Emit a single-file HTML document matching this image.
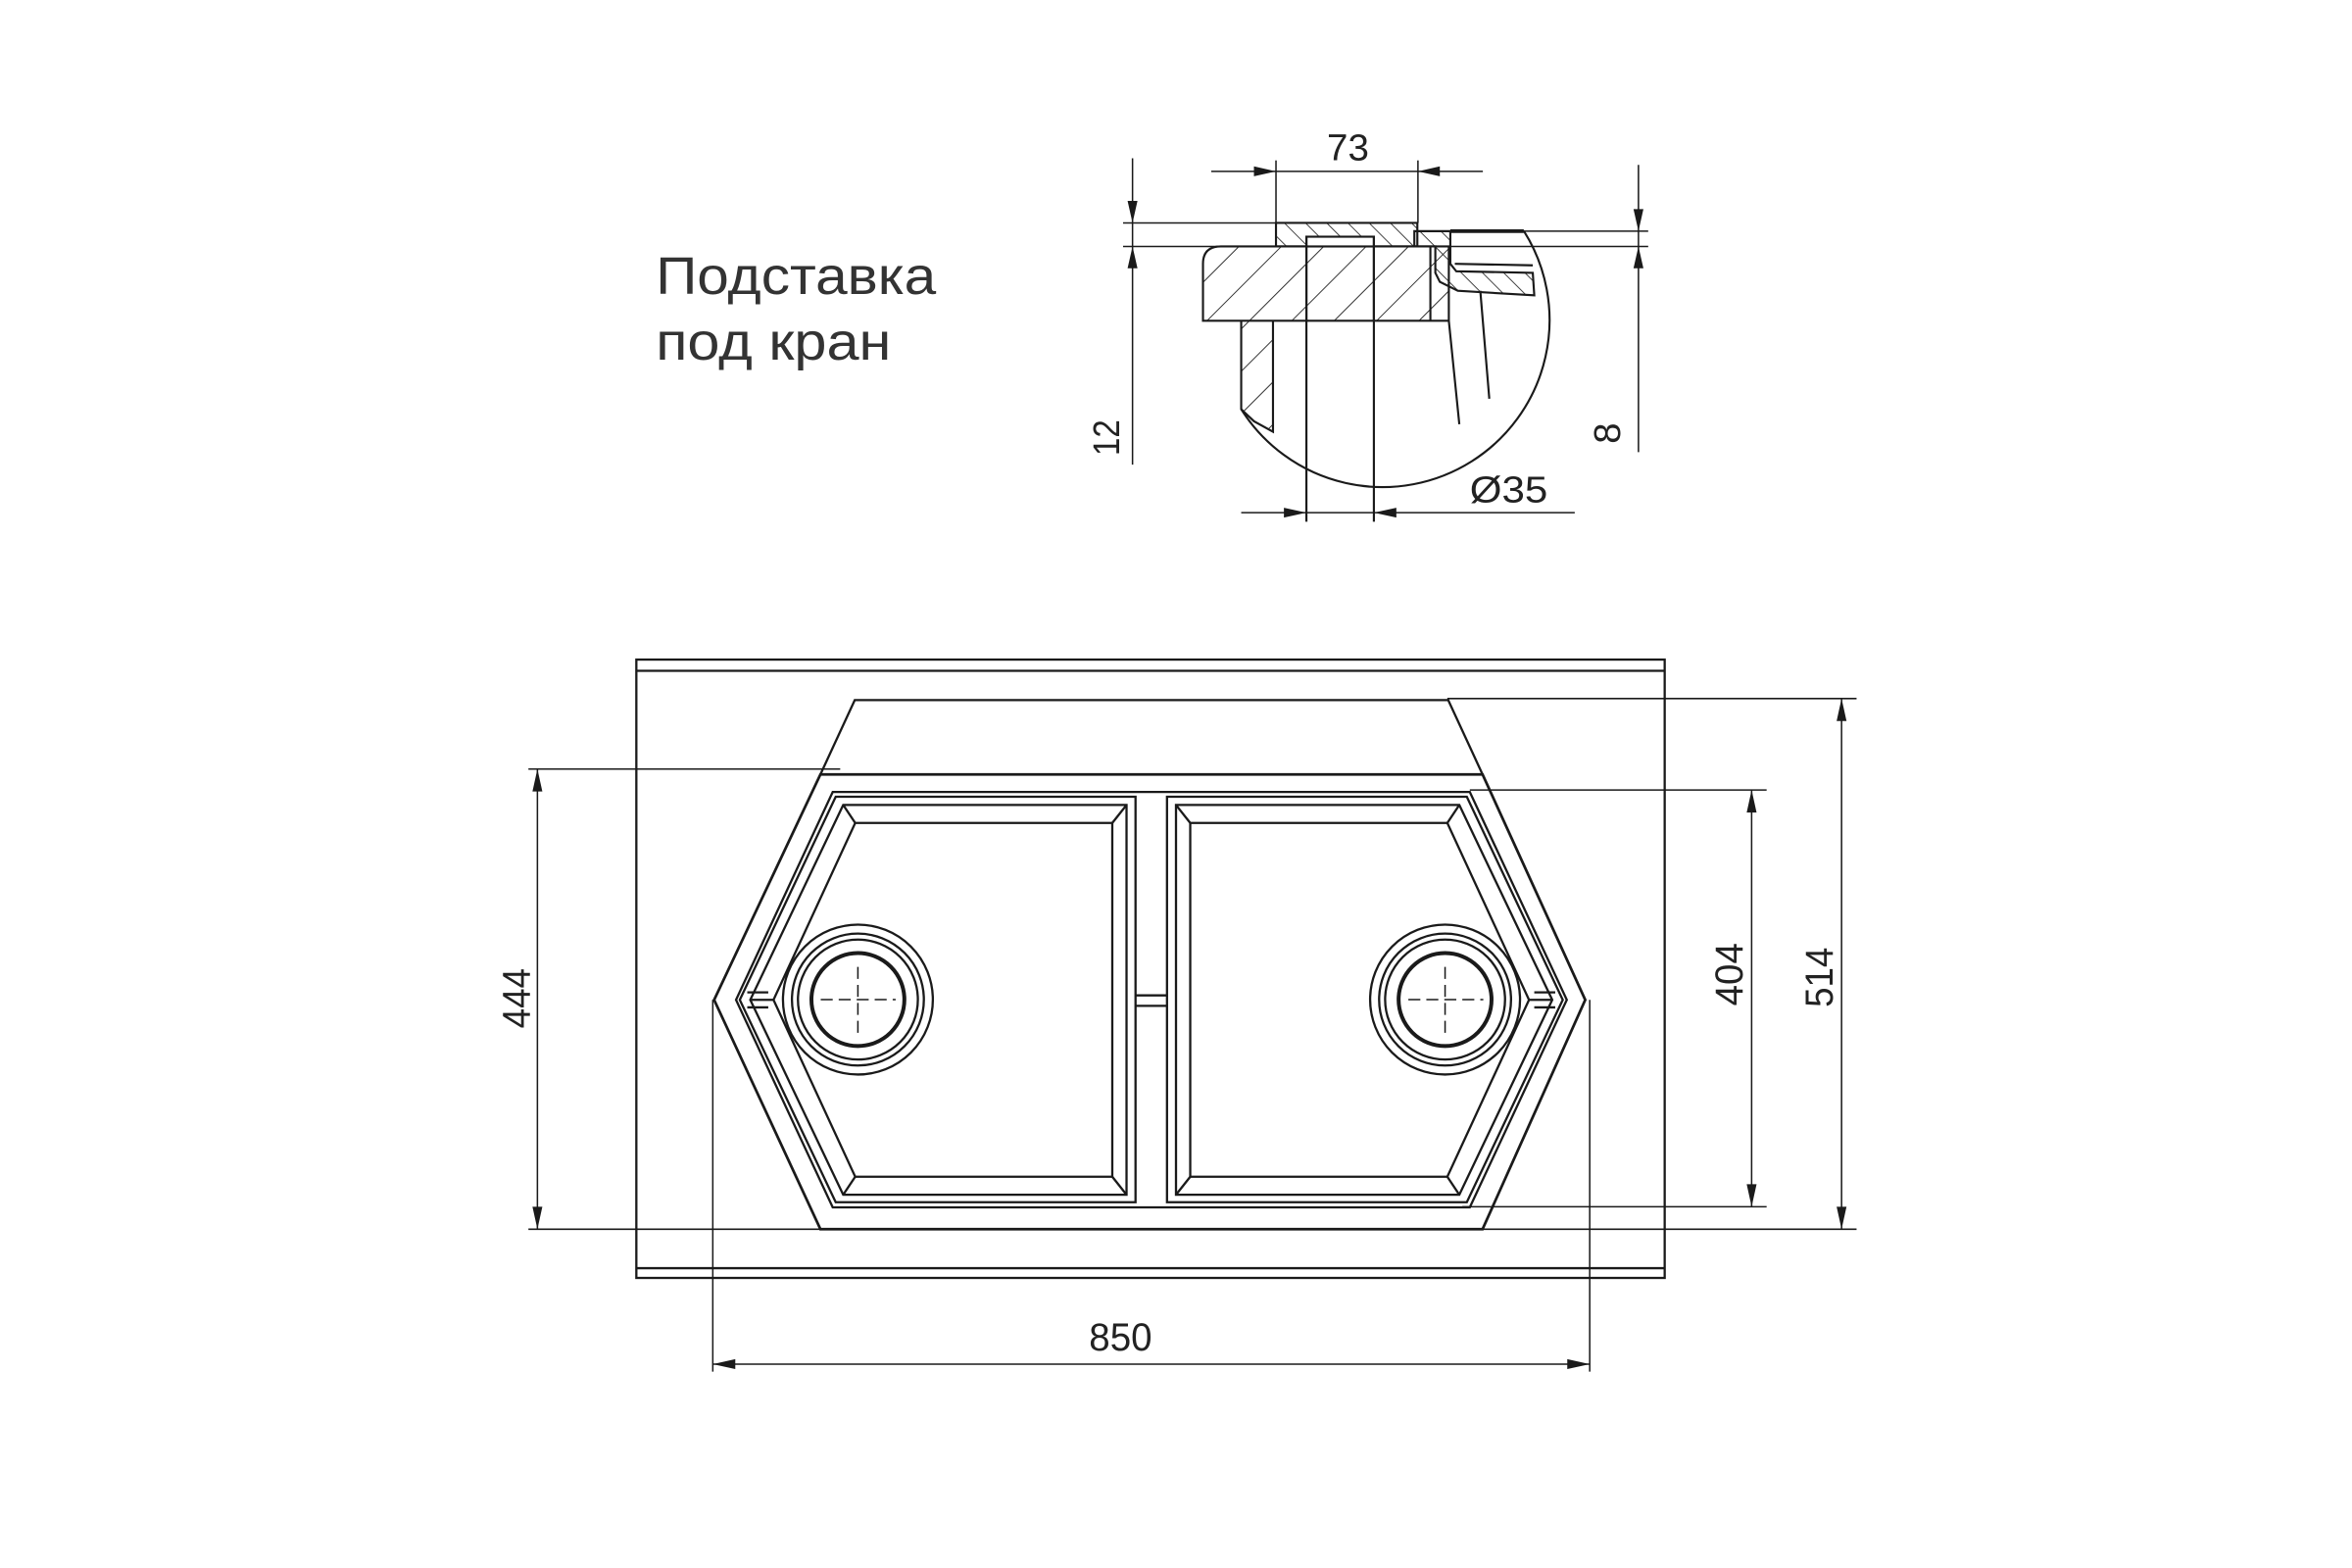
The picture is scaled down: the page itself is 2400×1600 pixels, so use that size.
<!DOCTYPE html>
<html><head><meta charset="utf-8"><style>html,body{margin:0;padding:0;background:#fff}svg{display:block}</style></head>
<body>
<svg width="2400" height="1600" viewBox="0 0 1568 1046" xmlns="http://www.w3.org/2000/svg">
<defs>
<pattern id="h1" width="20" height="20" patternUnits="userSpaceOnUse" patternTransform="rotate(45)"><line x1="0" y1="0" x2="0" y2="20" stroke="#222" stroke-width="1.2"/></pattern>
<pattern id="h2" width="10" height="10" patternUnits="userSpaceOnUse" patternTransform="rotate(-45)"><line x1="0" y1="0" x2="0" y2="10" stroke="#222" stroke-width="1.1"/></pattern>
</defs>
<g fill="none" stroke="#1a1a1a" stroke-width="1.4">
<path d="M827.5,273 A110,110 0 0 0 1016,154" />
<path d="M802,214 L802,176 Q802,164.4 814,164.4 L966,164.4 L966,214 Z" fill="url(#h1)"/>
<path d="M871,164.4 L871,214 M916,164.4 L916,214" />
<line x1="953.7" y1="164.4" x2="953.7" y2="214"/>
<path d="M850.7,164.4 L850.7,148.7 L945,148.7 L945,164.4 Z" fill="url(#h2)"/>
<rect x="871" y="157.9" width="45" height="6.5" fill="#fff"/>
<path d="M943,164.4 L943,154.2 L967,154.2 L967,176 L971,181 L1022,182 L1023,197 L972,194 L960,188 L957,182 L957,164.4 Z" fill="url(#h2)"/>
<line x1="967" y1="154.2" x2="1016" y2="154.2" stroke-width="2.4"/>
<line x1="970" y1="176" x2="1022" y2="177"/>
<line x1="966" y1="214" x2="973" y2="283"/>
<line x1="987" y1="194" x2="993" y2="266"/>
<path d="M827.5,214 L827.5,273 L836,281 L848.7,288 L848.7,214" fill="url(#h1)"/>
<line x1="871" y1="157.9" x2="871" y2="348"/>
<line x1="916" y1="157.9" x2="916" y2="348"/>
<line x1="748.7" y1="148.7" x2="945" y2="148.7" stroke-width="1"/>
<line x1="748.7" y1="164.4" x2="1099" y2="164.4" stroke-width="1"/>
<line x1="967" y1="154.2" x2="1099" y2="154.2" stroke-width="1"/>
<line x1="807.5" y1="114.3" x2="988.7" y2="114.3" stroke-width="1"/>
<line x1="850.7" y1="107" x2="850.7" y2="148.7" stroke-width="1"/>
<line x1="945.4" y1="107" x2="945.4" y2="148.7" stroke-width="1"/>
<line x1="755" y1="105.6" x2="755" y2="310" stroke-width="1"/>
<line x1="1092.5" y1="110" x2="1092.5" y2="301.6" stroke-width="1"/>
<line x1="827.5" y1="342" x2="1050" y2="342" stroke-width="1"/>
</g>
<g fill="#1a1a1a" stroke="none">
<polygon points="850.7,114.3 836,111 836,117.6"/>
<polygon points="945.4,114.3 960,111 960,117.6"/>
<polygon points="755,148.7 751.7,134 758.3,134"/>
<polygon points="755,164.4 751.7,179 758.3,179"/>
<polygon points="1092.5,154.2 1089.2,139.5 1095.8,139.5"/>
<polygon points="1092.5,164.4 1089.2,179 1095.8,179"/>
<polygon points="871,342 856,338.7 856,345.3"/>
<polygon points="916,342 931,338.7 931,345.3"/>
</g>
<g font-family="'Liberation Sans', sans-serif" fill="#222" font-size="25">
<text x="898.7" y="107" text-anchor="middle" textLength="28" lengthAdjust="spacingAndGlyphs">73</text>
<text transform="translate(746,292) rotate(-90)" text-anchor="middle" textLength="24" lengthAdjust="spacingAndGlyphs">12</text>
<text transform="translate(1080,289) rotate(-90)" text-anchor="middle">8</text>
<text x="980" y="335" textLength="52" lengthAdjust="spacingAndGlyphs">Ø35</text>
</g>
<g font-family="'Liberation Sans', sans-serif" fill="#333" font-size="35">
<text x="437" y="196" textLength="187" lengthAdjust="spacingAndGlyphs">Подставка</text>
<text x="437" y="240" textLength="157" lengthAdjust="spacingAndGlyphs">под кран</text>
</g>

<g fill="none" stroke="#1a1a1a" stroke-width="1.5">
<rect x="424" y="440" width="686" height="412.5"/>
<line x1="424" y1="447.5" x2="1110" y2="447.5"/>
<line x1="424" y1="846" x2="1110" y2="846"/>
<path d="M546.8,516.6 L569.7,467 L965.6,467 L988.5,516.6"/>
<path d="M546.8,516.6 L988.5,516.6 L1057,667 L988.5,820 L546.8,820 L475.9,667 Z" stroke-width="1.8"/>
<path d="M555,528.3 L980,528.3 L1044.7,667 L980,805.4 L555,805.4 L490.5,667 Z"/>
<path d="M557,531.5 L757,531.5 L757,802 L557,802 L493,667 Z"/>
<path d="M562,537 L751,537 L751,797 L562,797 L500,667 Z"/>
<path d="M570,549 L741.5,549 L741.5,785 L570,785 L515.5,667 Z"/>
<path d="M562,537 L570,549 M751,537 L741.5,549 M751,797 L741.5,785 M562,797 L570,785 M500,667 L515.5,667"/>
<path d="M498,662 L512,662 M498,672 L512,672"/>
<path d="M978,531.5 L778,531.5 L778,802 L978,802 L1042,667 Z"/>
<path d="M973,537 L784,537 L784,797 L973,797 L1035,667 Z"/>
<path d="M965,549 L793.5,549 L793.5,785 L965,785 L1019.5,667 Z"/>
<path d="M973,537 L965,549 M784,537 L793.5,549 M784,797 L793.5,785 M973,797 L965,785 M1035,667 L1019.5,667"/>
<path d="M1023,662 L1037,662 M1023,672 L1037,672"/>
<path d="M757,664 L778,664 M757,671 L778,671"/>
<circle cx="571.8" cy="666.8" r="50"/>
<circle cx="571.8" cy="666.8" r="44"/>
<circle cx="571.8" cy="666.8" r="40"/>
<circle cx="571.8" cy="666.8" r="31" stroke-width="2.6"/>
<circle cx="963.5" cy="666.8" r="50"/>
<circle cx="963.5" cy="666.8" r="44"/>
<circle cx="963.5" cy="666.8" r="40"/>
<circle cx="963.5" cy="666.8" r="31" stroke-width="2.6"/>
<g stroke-width="1" stroke-dasharray="8,4">
<line x1="547" y1="666.8" x2="597" y2="666.8"/><line x1="571.8" y1="645" x2="571.8" y2="690"/>
<line x1="939" y1="666.8" x2="989" y2="666.8"/><line x1="963.5" y1="645" x2="963.5" y2="690"/>
</g>
<g stroke-width="1">
<line x1="352" y1="513" x2="560" y2="513"/>
<line x1="352" y1="820" x2="547" y2="820"/>
<line x1="358" y1="513" x2="358" y2="820"/>
<line x1="980" y1="527" x2="1178" y2="527"/>
<line x1="975" y1="805" x2="1178" y2="805"/>
<line x1="1168" y1="527" x2="1168" y2="805"/>
<line x1="965" y1="466" x2="1238" y2="466"/>
<line x1="988" y1="820" x2="1238" y2="820"/>
<line x1="1228" y1="466" x2="1228" y2="820"/>
<line x1="475" y1="667" x2="475" y2="915"/>
<line x1="1060" y1="667" x2="1060" y2="915"/>
<line x1="475" y1="910" x2="1060" y2="910"/>
</g>
</g>
<g fill="#1a1a1a">
<polygon points="358,513 354.7,528 361.3,528"/>
<polygon points="358,820 354.7,805 361.3,805"/>
<polygon points="1168,527 1164.7,542 1171.3,542"/>
<polygon points="1168,805 1164.7,790 1171.3,790"/>
<polygon points="1228,466 1224.7,481 1231.3,481"/>
<polygon points="1228,820 1224.7,805 1231.3,805"/>
<polygon points="475,910 490,906.7 490,913.3"/>
<polygon points="1060,910 1045,906.7 1045,913.3"/>
</g>
<g font-family="'Liberation Sans', sans-serif" fill="#222" font-size="26">
<text transform="translate(353,666) rotate(-90)" text-anchor="middle" textLength="40" lengthAdjust="spacingAndGlyphs">444</text>
<text transform="translate(1162,650) rotate(-90)" text-anchor="middle" textLength="42" lengthAdjust="spacingAndGlyphs">404</text>
<text transform="translate(1222,652) rotate(-90)" text-anchor="middle" textLength="40" lengthAdjust="spacingAndGlyphs">514</text>
<text x="747" y="901" text-anchor="middle" textLength="42" lengthAdjust="spacingAndGlyphs">850</text>
</g>
</svg>
</body></html>
